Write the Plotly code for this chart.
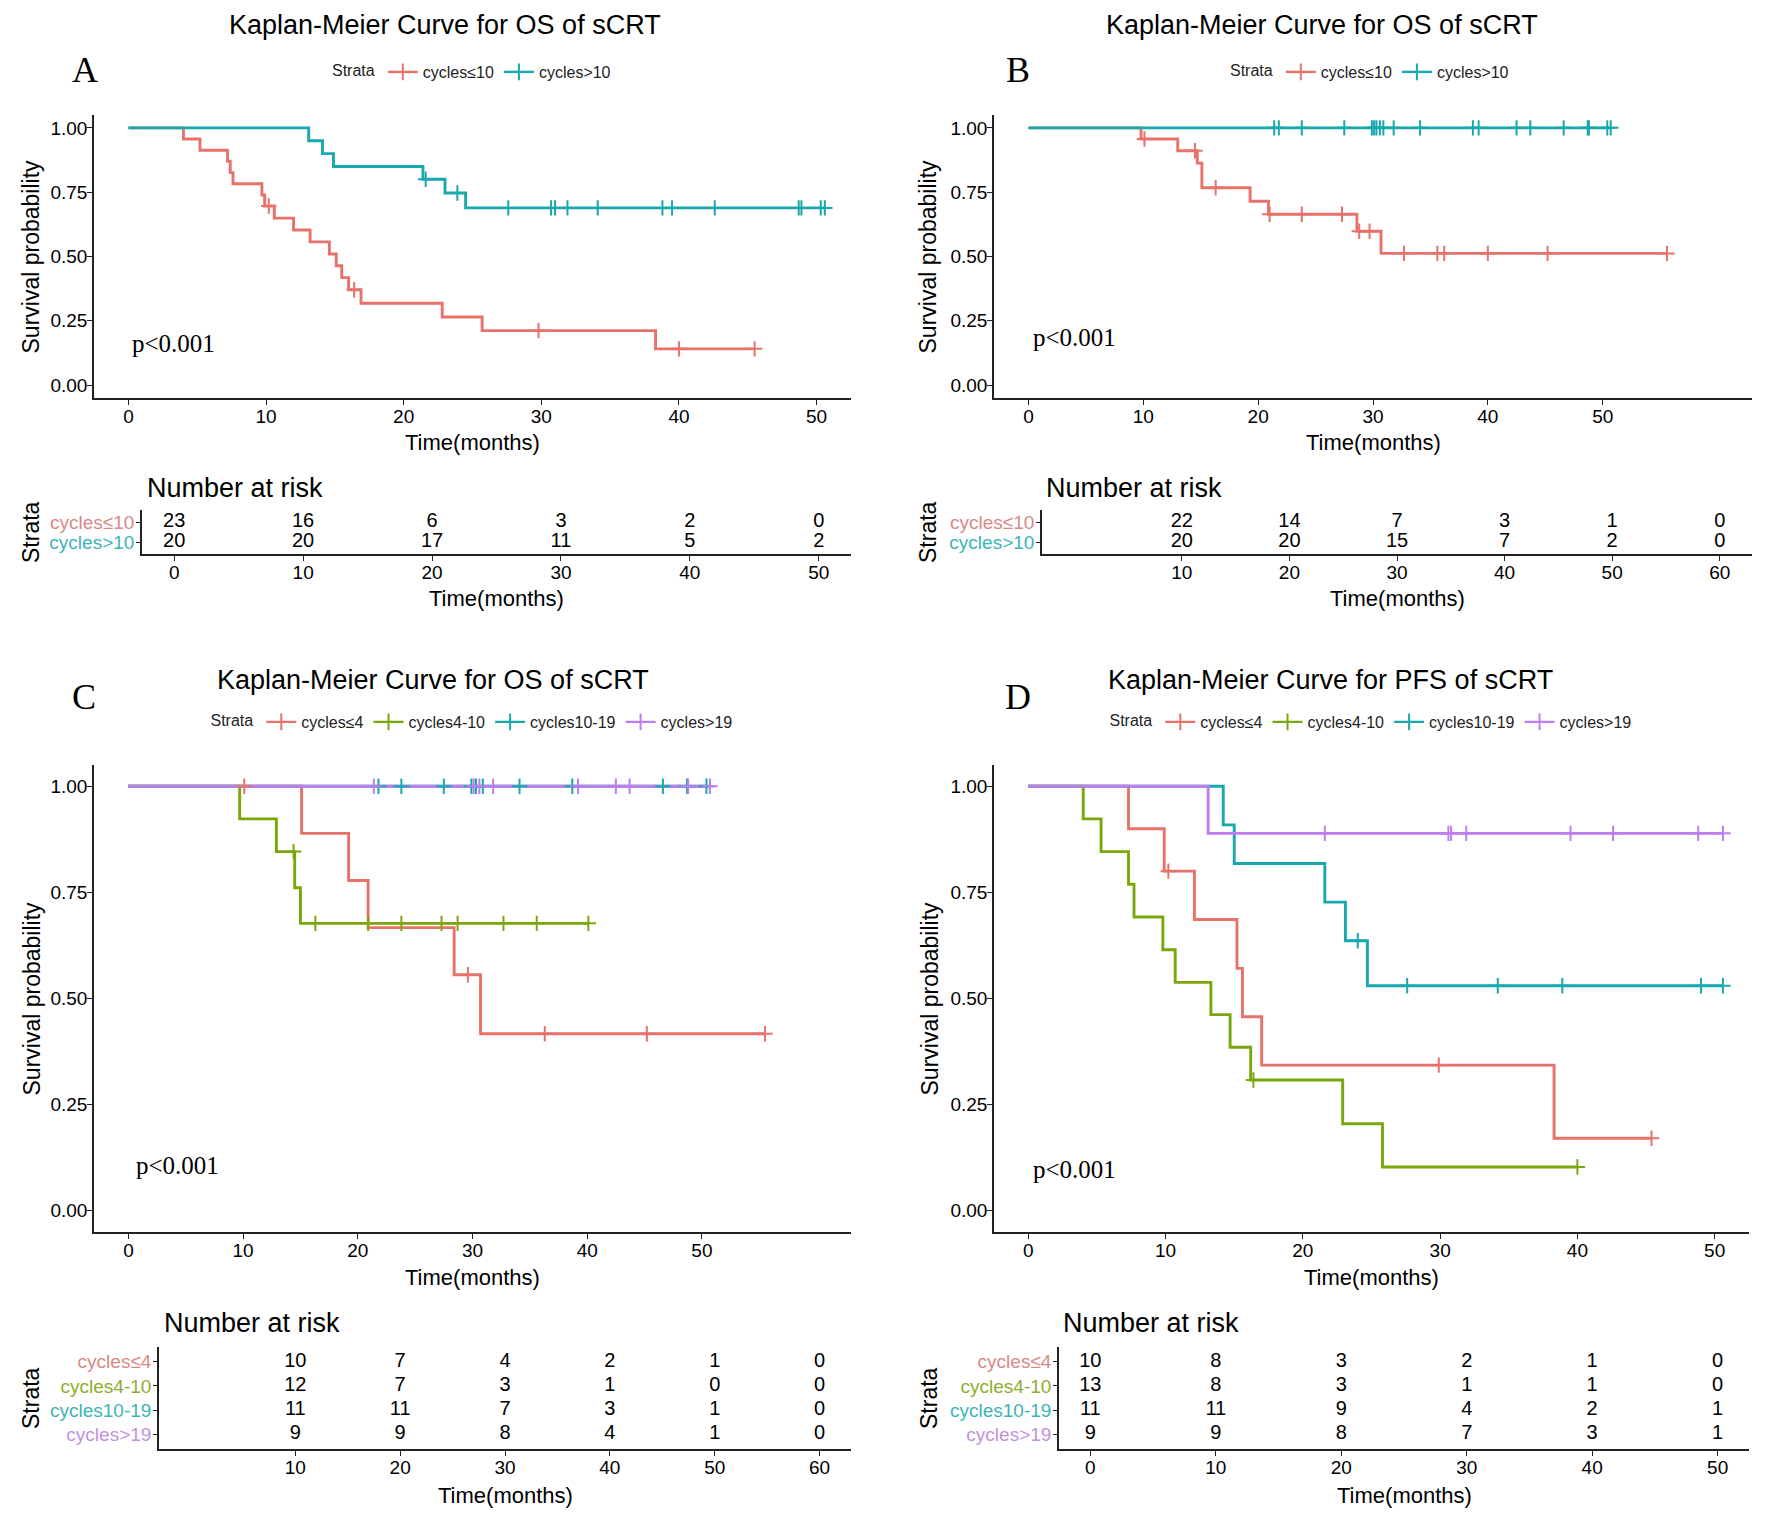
import plotly.graph_objects as go

# ---------------- data ----------------
# Panel A  (OS, two strata)
a_le10_time = [0, 4.0, 5.2, 7.2, 7.4, 7.6, 9.7, 9.9, 10.2, 10.6, 12.0, 13.2, 14.6, 15.1, 15.5, 16.0, 16.4, 16.9, 22.8, 25.7, 29.8, 38.3, 40.0, 45.5]
a_le10_surv = [1, .957, .913, .870, .826, .783, .739, .696, .696, .649, .603, .557, .510, .464, .418, .371, .371, .318, .265, .212, .212, .141, .141, .141]
a_le10_cens = [0, 0, 0, 0, 0, 0, 0, 0, 1, 0, 0, 0, 0, 0, 0, 0, 1, 0, 0, 0, 1, 0, 1, 1]
a_gt10_time = [0, 13.1, 14.1, 14.9, 21.4, 21.6, 23.0, 23.9, 24.5, 27.6, 30.7, 31.0, 31.9, 34.1, 38.8, 39.5, 42.6, 48.7, 48.9, 50.3, 50.6]
a_gt10_surv = [1, .95, .90, .85, .80, .80, .747, .747, .689, .689, .689, .689, .689, .689, .689, .689, .689, .689, .689, .689, .689]
a_gt10_cens = [0, 0, 0, 0, 0, 1, 0, 1, 0, 1, 1, 1, 1, 1, 1, 1, 1, 1, 1, 1, 1]

# Panel B  (OS, two strata)
b_le10_time = [0, 9.8, 10.1, 13.0, 14.5, 14.7, 15.1, 16.3, 19.3, 20.9, 21.0, 23.8, 27.3, 28.6, 28.8, 29.7, 30.7, 32.7, 35.6, 36.2, 40.0, 45.2, 55.6]
b_le10_surv = [1, .957, .957, .911, .911, .863, .767, .767, .715, .664, .664, .664, .664, .598, .598, .598, .512, .512, .512, .512, .512, .512, .512]
b_le10_cens = [0, 0, 1, 0, 1, 0, 0, 1, 0, 0, 1, 1, 1, 0, 1, 1, 0, 1, 1, 1, 1, 1, 1]
b_gt10_time = [0, 21.4, 21.8, 23.8, 27.5, 29.9, 30.1, 30.3, 30.6, 30.9, 31.8, 34.1, 38.7, 39.2, 42.5, 43.7, 46.6, 48.7, 48.8, 50.4, 50.7]
b_gt10_surv = [1] * 21
b_gt10_cens = [0] + [1] * 20

# Panel C  (OS, four strata)
c_le4_time = [0, 10.1, 15.1, 19.2, 20.9, 28.4, 29.6, 30.7, 36.3, 45.2, 55.5]
c_le4_surv = [1, 1, .889, .778, .667, .556, .556, .417, .417, .417, .417]
c_le4_cens = [0, 1, 0, 0, 0, 0, 1, 0, 1, 1, 1]
c_4to10_time = [0, 9.7, 12.9, 14.4, 14.5, 15.0, 16.3, 20.9, 23.8, 27.3, 28.7, 32.7, 35.6, 40.1]
c_4to10_surv = [1, .923, .846, .846, .761, .677, .677, .677, .677, .677, .677, .677, .677, .677]
c_4to10_cens = [0, 0, 0, 1, 0, 0, 1, 1, 1, 1, 1, 1, 1, 1]
c_10to19_time = [0, 21.8, 23.8, 27.5, 29.9, 30.3, 30.9, 34.1, 38.7, 46.6, 48.7, 50.4]
c_10to19_surv = [1] * 12
c_10to19_cens = [0] + [1] * 11
c_gt19_time = [0, 21.4, 30.1, 30.6, 31.8, 39.2, 42.5, 43.7, 48.8, 50.7]
c_gt19_surv = [1] * 10
c_gt19_cens = [0] + [1] * 9

# Panel D  (PFS, four strata)
d_le4_time = [0, 7.3, 9.9, 10.2, 12.1, 15.2, 15.6, 17.0, 29.9, 38.3, 45.4]
d_le4_surv = [1, .9, .8, .8, .686, .571, .457, .343, .343, .171, .171]
d_le4_cens = [0, 0, 0, 1, 0, 0, 0, 0, 1, 0, 1]
d_4to10_time = [0, 4.0, 5.3, 7.3, 7.7, 9.8, 10.7, 13.3, 14.7, 16.2, 16.4, 22.9, 25.8, 40.0]
d_4to10_surv = [1, .923, .846, .769, .692, .615, .538, .462, .385, .308, .308, .205, .103, .103]
d_4to10_cens = [0, 0, 0, 0, 0, 0, 0, 0, 0, 0, 1, 0, 0, 1]
d_10to19_time = [0, 14.2, 15.0, 21.6, 23.1, 24.0, 24.7, 27.6, 34.2, 38.9, 49.0, 50.6]
d_10to19_surv = [1, .909, .818, .727, .636, .636, .530, .530, .530, .530, .530, .530]
d_10to19_cens = [0, 0, 0, 0, 0, 1, 0, 1, 1, 1, 1, 1]
d_gt19_time = [0, 13.1, 21.6, 30.6, 30.8, 31.9, 39.5, 42.6, 48.8, 50.6]
d_gt19_surv = [1, .889, .889, .889, .889, .889, .889, .889, .889, .889]
d_gt19_cens = [0, 0, 1, 1, 1, 1, 1, 1, 1, 1]

# number at risk tables
a_risk_time = [0, 10, 20, 30, 40, 50]
a_risk_le10 = [23, 16, 6, 3, 2, 0]
a_risk_gt10 = [20, 20, 17, 11, 5, 2]
b_risk_time = [10, 20, 30, 40, 50, 60]
b_risk_le10 = [22, 14, 7, 3, 1, 0]
b_risk_gt10 = [20, 20, 15, 7, 2, 0]
c_risk_time = [10, 20, 30, 40, 50, 60]
c_risk_le4 = [10, 7, 4, 2, 1, 0]
c_risk_4to10 = [12, 7, 3, 1, 0, 0]
c_risk_10to19 = [11, 11, 7, 3, 1, 0]
c_risk_gt19 = [9, 9, 8, 4, 1, 0]
d_risk_time = [0, 10, 20, 30, 40, 50]
d_risk_le4 = [10, 8, 3, 2, 1, 0]
d_risk_4to10 = [13, 8, 3, 1, 1, 0]
d_risk_10to19 = [11, 11, 9, 4, 2, 1]
d_risk_gt19 = [9, 9, 8, 7, 3, 1]

two_labels = ["cycles≤10", "cycles>10"]
four_labels = ["cycles≤4", "cycles4-10", "cycles10-19", "cycles>19"]

RED, GREEN, TEAL, PURPLE = "#E8726A", "#7AA80C", "#17A9AD", "#BF7DF0"
two_colors = [RED, TEAL]
four_colors = [RED, GREEN, TEAL, PURPLE]
# strata names in the risk tables are printed in paler tints
two_label_colors = ["#D98985", "#3DB4B6"]
four_label_colors = ["#D98985", "#8DAE2E", "#3DB4B6", "#C291E0"]

# ---------------- layout helpers ----------------
# the page body keeps its default 8px margin, so the figure is 16px smaller
# than the window and every reference pixel position is shifted by 8
OFF = 8
W, H = 1772 - 2 * OFF, 1522 - 2 * OFF
SANS = "Liberation Sans, Arial, sans-serif"
SERIF = "Liberation Serif, Times New Roman, serif"


def fx(p):
    return (p - OFF) / W


def fy(p):
    return 1 - (p - OFF) / H


panels = [
    dict(curves=[(a_le10_time, a_le10_surv, a_le10_cens), (a_gt10_time, a_gt10_surv, a_gt10_cens)],
         labels=two_labels, colors=two_colors, label_colors=two_label_colors,
         title="Kaplan-Meier Curve for OS of sCRT", letter="A",
         risk_time=a_risk_time, risk=[a_risk_le10, a_risk_gt10],
         main_x=(94, 851), main_y=(115, 398), tab_x=(142, 851), tab_y=(510, 554),
         xr=[-2.5, 52.5], tab_ticks=[0, 10, 20, 30, 40, 50],
         title_pos=(445, 25), letter_pos=(85, 70), p_pos=(130, 343), nar_pos=(145, 488),
         leg_pos=(473, 72), ylab_x=31, tlab_y=(443, 598)),
    dict(curves=[(b_le10_time, b_le10_surv, b_le10_cens), (b_gt10_time, b_gt10_surv, b_gt10_cens)],
         labels=two_labels, colors=two_colors, label_colors=two_label_colors,
         title="Kaplan-Meier Curve for OS of sCRT", letter="B",
         risk_time=b_risk_time, risk=[b_risk_le10, b_risk_gt10],
         main_x=(994, 1752), main_y=(115, 398), tab_x=(1042, 1752), tab_y=(510, 554),
         xr=[-3, 63], tab_ticks=[10, 20, 30, 40, 50, 60],
         title_pos=(1322, 25), letter_pos=(1018, 70), p_pos=(1031, 337), nar_pos=(1044, 488),
         leg_pos=(1371, 72), ylab_x=928, tlab_y=(443, 598)),
    dict(curves=[(c_le4_time, c_le4_surv, c_le4_cens), (c_4to10_time, c_4to10_surv, c_4to10_cens),
                 (c_10to19_time, c_10to19_surv, c_10to19_cens), (c_gt19_time, c_gt19_surv, c_gt19_cens)],
         labels=four_labels, colors=four_colors, label_colors=four_label_colors,
         title="Kaplan-Meier Curve for OS of sCRT", letter="C",
         risk_time=c_risk_time, risk=[c_risk_le4, c_risk_4to10, c_risk_10to19, c_risk_gt19],
         main_x=(94, 851), main_y=(765, 1232), tab_x=(159, 851), tab_y=(1347, 1449),
         xr=[-3, 63], tab_ticks=[10, 20, 30, 40, 50, 60],
         title_pos=(433, 680), letter_pos=(84, 697), p_pos=(134, 1165), nar_pos=(162, 1323),
         leg_pos=(473, 722), ylab_x=31, tlab_y=(1277, 1495)),
    dict(curves=[(d_le4_time, d_le4_surv, d_le4_cens), (d_4to10_time, d_4to10_surv, d_4to10_cens),
                 (d_10to19_time, d_10to19_surv, d_10to19_cens), (d_gt19_time, d_gt19_surv, d_gt19_cens)],
         labels=four_labels, colors=four_colors, label_colors=four_label_colors,
         title="Kaplan-Meier Curve for PFS of sCRT", letter="D",
         risk_time=d_risk_time, risk=[d_risk_le4, d_risk_4to10, d_risk_10to19, d_risk_gt19],
         main_x=(994, 1749), main_y=(765, 1232), tab_x=(1059, 1749), tab_y=(1347, 1449),
         xr=[-2.5, 52.5], tab_ticks=[0, 10, 20, 30, 40, 50],
         title_pos=(1330, 680), letter_pos=(1018, 697), p_pos=(1031, 1169), nar_pos=(1061, 1323),
         leg_pos=(1372, 722), ylab_x=929, tlab_y=(1277, 1495)),
]

fig = go.Figure()
layout = {}
annotations = []

axis_common = dict(showline=True, linecolor="#222", linewidth=1.6, ticks="outside", ticklen=5,
                   tickcolor="#222", tickwidth=1.4, showgrid=False, zeroline=False,
                   tickfont=dict(family=SANS, size=19, color="black"))


def ann(x, y, text, size, family=SANS, angle=0, xanchor="center", color="black"):
    annotations.append(dict(x=fx(x), y=fy(y), xref="paper", yref="paper", text=text, showarrow=False,
                            xanchor=xanchor, yanchor="middle", textangle=angle,
                            font=dict(family=family, size=size, color=color)))


for i, p in enumerate(panels):
    m = i + 1          # main axes index
    t = i + 5          # table axes index
    leg = "legend" if i == 0 else "legend%d" % (i + 1)
    mx, my = "x%d" % m, "y%d" % m
    tx, ty = "x%d" % t, "y%d" % t

    # survival curves
    for (tm, sv, cs), col in zip(p["curves"], p["colors"]):
        fig.add_trace(go.Scatter(x=tm, y=sv, mode="lines", line=dict(color=col, width=2.9, shape="hv"),
                                 xaxis=mx, yaxis=my, showlegend=False, hoverinfo="skip"))
    # censor marks
    for (tm, sv, cs), col in zip(p["curves"], p["colors"]):
        cx = [a for a, c in zip(tm, cs) if c]
        cy = [b for b, c in zip(sv, cs) if c]
        fig.add_trace(go.Scatter(x=cx, y=cy, mode="markers",
                                 marker=dict(symbol="cross-thin", size=11, color=col,
                                             line=dict(width=2, color=col)),
                                 xaxis=mx, yaxis=my, showlegend=False, hoverinfo="skip"))
    # legend entries
    for lab, col in zip(p["labels"], p["colors"]):
        fig.add_trace(go.Scatter(x=[None], y=[None], mode="lines+markers", name=lab, legend=leg,
                                 line=dict(color=col, width=2.4),
                                 marker=dict(symbol="cross-thin", size=12, color=col,
                                             line=dict(width=2, color=col)),
                                 xaxis=mx, yaxis=my))

    # risk table numbers
    n = len(p["labels"])
    for r, vals in enumerate(p["risk"]):
        fig.add_trace(go.Scatter(x=p["risk_time"], y=[r + 1] * len(vals), mode="text",
                                 text=[str(v) for v in vals],
                                 textfont=dict(family=SANS, size=20, color="black"),
                                 xaxis=tx, yaxis=ty, showlegend=False, hoverinfo="skip"))

    xa, ya = p["main_x"], p["main_y"]
    layout["xaxis%d" % m] = dict(axis_common, domain=[fx(xa[0]), fx(xa[1])], range=p["xr"],
                                 tickvals=[0, 10, 20, 30, 40, 50], anchor=my, ticklabelstandoff=-5)
    layout["yaxis%d" % m] = dict(axis_common, domain=[fy(ya[1]), fy(ya[0])], range=[-0.05, 1.05],
                                 tickvals=[0, 0.25, 0.5, 0.75, 1], tickformat=".2f", anchor=mx,
                                 ticklabelstandoff=-4)
    txa, tya = p["tab_x"], p["tab_y"]
    layout["xaxis%d" % t] = dict(axis_common, domain=[fx(txa[0]), fx(txa[1])], range=p["xr"],
                                 tickvals=p["tab_ticks"], anchor=ty, ticklabelstandoff=-5)
    layout["yaxis%d" % t] = dict(axis_common, domain=[fy(tya[1]), fy(tya[0])], range=[n + 0.6, 0.4],
                                 tickvals=list(range(1, n + 1)), ticklen=4, ticklabelstandoff=-2,
                                 ticktext=["<span style='color:%s'>%s</span>" % (c, l)
                                           for l, c in zip(p["labels"], p["label_colors"])],
                                 anchor=tx)

    layout[leg] = dict(orientation="h", x=fx(p["leg_pos"][0]), y=fy(p["leg_pos"][1]),
                       xanchor="center", yanchor="middle", itemwidth=30,
                       title=dict(text="Strata", side="left", font=dict(family=SANS, size=16, color="#222")),
                       font=dict(family=SANS, size=16, color="#222"), bgcolor="rgba(0,0,0,0)")

    # texts
    ann(*p["title_pos"], p["title"], 27)
    ann(*p["letter_pos"], p["letter"], 36, family=SERIF)
    ann(p["p_pos"][0], p["p_pos"][1], "p<0.001", 25, family=SERIF, xanchor="left")
    ann(p["nar_pos"][0], p["nar_pos"][1], "Number at risk", 27, xanchor="left")
    ann(p["ylab_x"], (ya[0] + ya[1]) / 2, "Survival probability", 23, angle=-90)
    ann(p["ylab_x"], (tya[0] + tya[1]) / 2, "Strata", 23, angle=-90)
    ann((xa[0] + xa[1]) / 2, p["tlab_y"][0], "Time(months)", 22)
    ann((txa[0] + txa[1]) / 2, p["tlab_y"][1], "Time(months)", 22)

fig.update_layout(width=W, height=H, margin=dict(l=0, r=0, t=0, b=0),
                  plot_bgcolor="white", paper_bgcolor="white",
                  annotations=annotations, **layout)

fig.write_html("out.html")
